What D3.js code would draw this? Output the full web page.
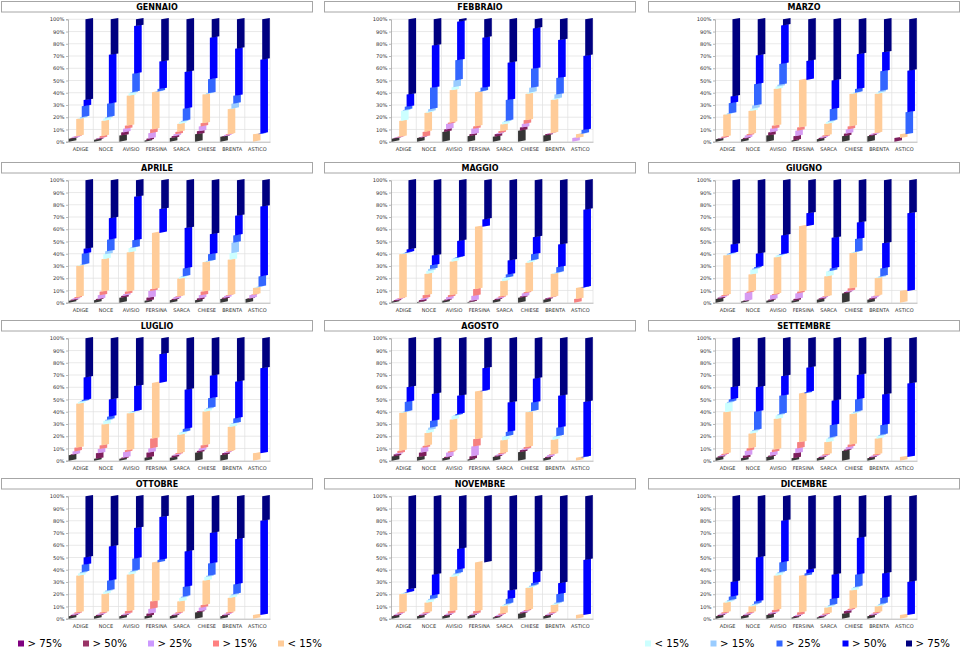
<!DOCTYPE html>
<html>
<head>
<meta charset="utf-8">
<script src="https://cdn.jsdelivr.net/npm/d3@7"></script>
<style>
  body { margin: 0; background: #fff; }
  svg { display: block; }
</style>
</head>
<body>
<svg id="chart" width="960" height="651"></svg>
<script>
// rivers (categories) and months (panels)
const rivers = ['ADIGE', 'NOCE', 'AVISIO', 'FERSINA', 'SARCA', 'CHIESE', 'BRENTA', 'ASTICO'];
const months = ['GENNAIO', 'FEBBRAIO', 'MARZO', 'APRILE', 'MAGGIO', 'GIUGNO',
                'LUGLIO', 'AGOSTO', 'SETTEMBRE', 'OTTOBRE', 'NOVEMBRE', 'DICEMBRE'];
const yTicks = [0, 10, 20, 30, 40, 50, 60, 70, 80, 90, 100];

// legend labels (left block = first five classes, right block = last five)
const legendLeftLabels = ['> 75%', '> 50%', '> 25%', '> 15%', '< 15%'];
const legendRightLabels = ['< 15%', '> 15%', '> 25%', '> 50%', '> 75%'];

// share of each class (%) per river, bottom to top, 10 classes
const gennaio = [
  [2.5, 0.5, 1, 0.5, 14, 0.5, 1, 9, 5, 66],
  [1.5, 1, 0.5, 1.5, 12.5, 2, 1, 11, 40, 29],
  [5, 2.5, 3, 2.5, 24.5, 2, 1, 15, 39, 5.5],
  [1, 1.5, 4.5, 3, 30.5, 0, 0.5, 2, 22.5, 34.5],
  [3, 1.5, 1.5, 2, 6.5, 1.5, 1, 10, 30, 43],
  [6, 2.5, 4, 2.5, 23.5, 0.5, 0.5, 11.5, 34, 15],
  [4, 0.5, 1, 0.5, 20.5, 0.5, 4, 6.5, 38.5, 24],
  [0, 0, 0, 0, 6, 0, 0, 0.5, 60.5, 33]
];
const febbraio = [
  [2.5, 0.5, 0.5, 0.5, 13, 8, 1, 2.5, 10, 61.5],
  [3, 0.5, 0.5, 4, 15.5, 1, 2, 17.5, 34.5, 21.5],
  [8, 2, 4.5, 1, 26.5, 2.5, 5.5, 16.5, 31.5, 2],
  [4.5, 1.5, 4.5, 2, 28, 0, 0.5, 3, 41, 15],
  [4, 2, 1, 1.5, 5.5, 2, 1, 17, 30.5, 35.5],
  [9, 2.5, 3, 3, 21.5, 1, 4, 15.5, 33, 7.5],
  [5, 1, 0.5, 0.5, 27, 1, 3.5, 13.5, 31, 17],
  [0, 0, 3, 0, 3, 0, 0.5, 3, 60.5, 30]
];
const marzo = [
  [2, 0.5, 0.5, 1, 18, 0.5, 0.5, 8.5, 5.5, 63],
  [2, 1, 2, 1, 19, 2, 2.5, 17.5, 23.5, 29.5],
  [5, 2.5, 3, 2.5, 30, 2, 1.5, 17, 31.5, 5],
  [1, 3.5, 4.5, 2.5, 39, 0, 0, 0, 15.5, 34],
  [2, 1, 1, 1, 9.5, 1.5, 1, 9.5, 23.5, 50],
  [4.5, 2, 3.5, 2.5, 26.5, 0.5, 0.5, 3, 28.5, 28.5],
  [4.5, 1, 1, 0.5, 32, 1, 1.5, 16, 15.5, 27],
  [0, 3, 0, 0, 3, 0, 0, 18, 34, 42]
];
const aprile = [
  [1.5, 1, 1, 1, 25.5, 0.5, 0.5, 9, 4, 56],
  [2, 1, 3, 3, 26.5, 4, 2.5, 9.5, 17.5, 31],
  [4, 1.5, 1.5, 2, 32, 3.5, 0.5, 6, 35.5, 13.5],
  [1.5, 2.5, 5.5, 1.5, 46, 0, 0, 0, 19.5, 23.5],
  [2, 1, 1.5, 0.5, 14.5, 1.5, 0.5, 6.5, 33, 39],
  [2, 1.5, 2.5, 3, 24, 0.5, 0.5, 5.5, 16.5, 44],
  [3, 1, 1.5, 0.5, 29, 5.5, 8.5, 6, 16, 29],
  [3, 0.5, 2.5, 0.5, 5.5, 0.5, 0.5, 8.5, 57, 21.5]
];
const maggio = [
  [1, 1, 1, 0.5, 36, 0.5, 0.5, 0.5, 2.5, 56.5],
  [0.5, 1.5, 1.5, 2.5, 17.5, 2.5, 1.5, 3, 8, 61.5],
  [1.5, 1, 2, 1.5, 27.5, 2.5, 0.5, 0.5, 13.5, 49.5],
  [0.5, 1, 4, 5.5, 51, 0, 0, 0, 6, 32],
  [2, 1, 1, 1, 12.5, 2.5, 0.5, 2.5, 11.5, 65.5],
  [4, 1, 2.5, 1, 24, 1.5, 0.5, 5, 14, 46.5],
  [2.5, 1, 0.5, 0.5, 19, 0.5, 0.5, 4.5, 18.5, 52.5],
  [0, 0, 0, 3, 9, 0, 0, 0.5, 63.5, 24]
];
const giugno = [
  [3, 1, 1, 1, 32.5, 0.5, 1, 0.5, 7, 52.5],
  [1, 0.5, 6.5, 1, 14, 4, 1, 1, 11, 60],
  [1.5, 1, 3.5, 1, 30, 1.5, 0.5, 0.5, 15.5, 45],
  [1.5, 1.5, 4.5, 1.5, 53.5, 0, 0, 0, 10.5, 27],
  [2.5, 1, 1, 0.5, 16.5, 4, 0.5, 2, 25, 47],
  [7.5, 1, 1, 2, 29, 0.5, 0.5, 10.5, 13.5, 34.5],
  [2.5, 1, 1.5, 0.5, 14.5, 0.5, 1, 6.5, 20.5, 51.5],
  [0, 0, 0, 0, 9.5, 0, 0, 0, 63.5, 27]
];
const luglio = [
  [4.5, 0.5, 2.5, 3, 36, 1.5, 0.5, 1, 18.5, 32],
  [1.5, 4.5, 3.5, 3, 17, 3, 1, 2.5, 14, 50],
  [1.5, 1, 4.5, 1.5, 30, 1, 0.5, 0.5, 20.5, 39],
  [2.5, 4, 3.5, 8, 45.5, 0, 0, 0, 23.5, 13],
  [2.5, 1.5, 1, 1, 15, 2, 0.5, 2.5, 32, 42],
  [6.5, 1.5, 2, 2.5, 27.5, 2, 1, 8, 18.5, 30.5],
  [4.5, 1.5, 1, 0.5, 20, 2.5, 0.5, 4, 30, 35.5],
  [0, 0, 0, 0, 6, 0, 0, 0, 69.5, 24.5]
];
const agosto = [
  [3.5, 1.5, 1, 2, 31, 0.5, 0.5, 8, 12, 40],
  [3, 3.5, 4, 1.5, 10.5, 2.5, 2, 5.5, 22, 45.5],
  [2, 1, 3.5, 1, 26, 3, 0.5, 1, 15, 47],
  [1, 2.5, 8, 6, 39, 0, 0, 0.5, 18.5, 24.5],
  [3, 1, 1, 1, 10.5, 3, 0.5, 3.5, 24, 52.5],
  [7, 1.5, 1, 1.5, 28.5, 0.5, 0.5, 7, 19.5, 33],
  [2, 1, 1.5, 0.5, 12, 2.5, 0.5, 7, 26, 47],
  [0, 0, 0, 0, 2.5, 0, 0, 0.5, 45, 52]
];
const settembre = [
  [2.5, 1, 1, 1, 34, 7.5, 1, 2, 10, 40],
  [2, 2, 4, 2, 12, 2, 1, 15, 20, 40],
  [3, 1, 3, 2, 25, 3, 1, 15, 16, 31],
  [2, 4, 4, 5, 40, 0, 0, 1, 20, 24],
  [2, 1, 1, 1, 10, 3, 1, 10, 20, 51],
  [8, 1, 2, 2, 25, 1, 1, 10, 20, 30],
  [2, 1, 1, 1, 13, 2, 1, 8, 25, 46],
  [0, 0, 0, 0, 3, 0, 0, 0, 60, 37]
];
const ottobre = [
  [2, 1, 1, 1, 30, 2, 1, 6, 6, 50],
  [2, 1, 1, 1, 15, 2, 1, 8, 28, 41],
  [2, 1, 1, 2, 30, 2, 1, 10, 25, 26],
  [2, 2, 4, 6, 32, 0, 0, 2, 35, 17],
  [2, 1, 1, 1, 9, 3, 1, 8, 29, 45],
  [5, 1, 3, 2, 20, 3, 1, 10, 25, 30],
  [2, 1, 1, 1, 12, 2, 1, 8, 37, 35],
  [0, 0, 0, 0, 3, 0, 0, 0, 77, 20]
];
const novembre = [
  [2, 1, 1, 1, 15, 0.5, 0.5, 0.5, 2.5, 76],
  [2, 1, 1, 1, 8, 2, 1, 3, 17, 64],
  [2, 1, 1, 2, 28, 2, 1, 3, 17, 43],
  [2, 1, 1, 2, 40, 0, 0, 0, 0, 54],
  [1, 1, 1, 1, 6, 1, 1, 4, 7, 77],
  [4, 1, 1, 1, 18, 1, 1, 2, 9, 62],
  [2, 1, 1, 1, 6, 1, 1, 7, 9, 71],
  [0, 0, 0, 0, 3, 0, 0, 0, 45, 52]
];
const dicembre = [
  [2, 1, 1, 1, 8, 1, 1, 3, 12, 70],
  [2, 1, 1, 1, 5, 1, 1, 2, 36, 50],
  [3, 1, 1, 2, 28, 2, 1, 8, 34, 20],
  [1, 1, 1, 2, 30, 0, 0, 2, 3, 60],
  [1, 1, 1, 1, 5, 1, 1, 5, 20, 64],
  [4, 2, 1, 1, 15, 2, 1, 10, 30, 34],
  [2, 1, 1, 1, 5, 1, 1, 5, 20, 63],
  [0, 0, 0, 0, 3, 0, 0, 0, 27, 70]
];
const monthData = [gennaio, febbraio, marzo, aprile, maggio, giugno,
                   luglio, agosto, settembre, ottobre, novembre, dicembre];

// colours of the 10 classes as drawn in the bars, and as shown in the legend
const barColors = ['#363636', '#7d1f5c', '#d69bf2', '#f58080', '#ffcc99',
                   '#ccffff', '#99ccff', '#3366ff', '#0000ff', '#000080'];
const legendLeftColors = ['#800080', '#993366', '#cc99ff', '#ff8080', '#ffcc99'];
const legendRightColors = ['#ccffff', '#99ccff', '#3366ff', '#0000ff', '#000080'];

const svg = d3.select('#chart');
const font = 'DejaVu Sans, Verdana, sans-serif';

const colX = [0, 323, 647];
const rowY = [0, 161, 319, 477];
const plotLeft = 68, plotRight = 270, plotTop = 19.3, plotBottom = 141.7;

const x = d3.scaleBand().domain(rivers).range([plotLeft, plotRight]);
const y = d3.scaleLinear().domain([0, 100]).range([plotBottom, plotTop]);
const keys = d3.range(10);
const stack = d3.stack().keys(keys).value((d, k) => d[k]);

const step = 1.85;   // horizontal shift of each class inside a river
const barW = 7.6;
const skew = 1.4;    // slight 3D slant

monthData.forEach((rows, i) => {
  const g = svg.append('g')
    .attr('transform', `translate(${colX[i % 3]},${rowY[Math.floor(i / 3)]})`);

  // title box
  g.append('rect')
    .attr('x', 1.5).attr('y', 1.5).attr('width', 311).attr('height', 10.5)
    .attr('fill', '#fff').attr('stroke', '#a6a6a6');
  g.append('text')
    .attr('x', 157).attr('y', 10)
    .attr('text-anchor', 'middle')
    .attr('font-family', font).attr('font-weight', 'bold').attr('font-size', 8)
    .attr('fill', '#000')
    .text(months[i]);

  // gridlines
  g.append('g').selectAll('line').data(yTicks.slice(1)).enter().append('line')
    .attr('x1', plotLeft).attr('x2', plotRight)
    .attr('y1', d => y(d)).attr('y2', d => y(d))
    .attr('stroke', '#e0e0e0').attr('stroke-width', 0.7);
  g.append('g').selectAll('line').data(rivers).enter().append('line')
    .attr('x1', d => x(d) + x.bandwidth()).attr('x2', d => x(d) + x.bandwidth())
    .attr('y1', y(0)).attr('y2', y(100))
    .attr('stroke', '#e0e0e0').attr('stroke-width', 0.7);

  // axes
  const yAxis = g.append('g')
    .attr('transform', `translate(${plotLeft},0)`)
    .call(d3.axisLeft(y).tickValues(yTicks).tickSize(2).tickFormat(d => d + '%'));
  yAxis.select('.domain').attr('stroke', '#9a9a9a').attr('stroke-width', 0.7);
  yAxis.selectAll('.tick line').attr('stroke', '#9a9a9a').attr('stroke-width', 0.7);
  yAxis.selectAll('text').attr('font-family', font).attr('font-size', 5.2)
    .attr('fill', '#333').attr('x', -3.5);

  const xAxis = g.append('g')
    .attr('transform', `translate(0,${plotBottom})`)
    .call(d3.axisBottom(x).tickSize(0));
  xAxis.select('.domain').attr('stroke', '#9a9a9a').attr('stroke-width', 0.7);
  xAxis.selectAll('text').attr('font-family', font).attr('font-size', 5)
    .attr('fill', '#333').attr('y', 5.5);

  // stacked, shifted segments
  const layers = stack(rows);
  layers.forEach((layer, s) => {
    g.append('g').selectAll('path')
      .data(layer.map((seg, r) => ({ seg, r })).filter(d => d.seg[1] - d.seg[0] > 0))
      .enter().append('path')
      .attr('fill', barColors[s])
      .attr('d', d => {
        const x0 = x(rivers[d.r]) + 0.8 + s * step;
        const x1 = x0 + barW;
        const yb = y(d.seg[0]), yt = y(d.seg[1]);
        return `M${x0},${yb}L${x1},${yb - skew}L${x1},${yt - skew}L${x0},${yt}Z`;
      });
  });
});

// legends
function buildLegend(labels, colors, xs) {
  const lg = svg.append('g');
  labels.forEach((lab, k) => {
    lg.append('rect')
      .attr('x', xs[k]).attr('y', 640.5).attr('width', 6).attr('height', 6)
      .attr('fill', colors[k]);
    lg.append('text')
      .attr('x', xs[k] + 9.5).attr('y', 647)
      .attr('font-family', font).attr('font-size', 10.2).attr('fill', '#000')
      .text(lab);
  });
}
buildLegend(legendLeftLabels, legendLeftColors, [18, 83, 148, 213, 278]);
buildLegend(legendRightLabels, legendRightColors, [645, 710.5, 776.5, 842.5, 906]);
</script>
</body>
</html>
